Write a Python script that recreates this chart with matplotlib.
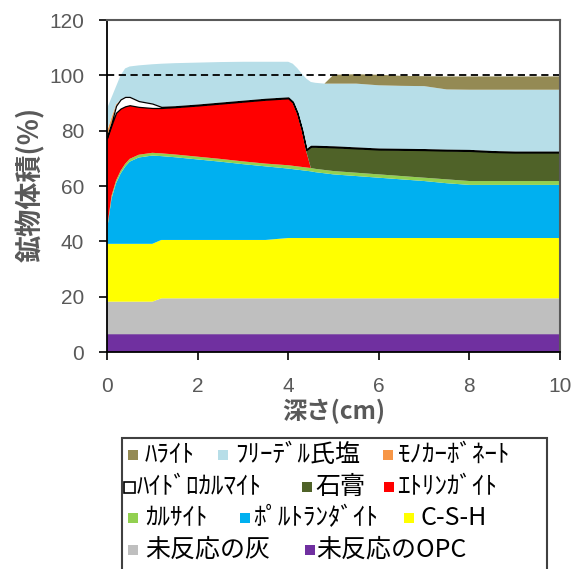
import matplotlib
matplotlib.use('Agg')
import matplotlib.pyplot as plt
from matplotlib.patches import Rectangle

# ---------------- data ----------------
depth = [0, 0.1, 0.2, 0.3, 0.4, 0.5, 0.7, 1.0, 1.2, 1.5, 2.0, 2.5, 3.0, 3.5, 4.0, 4.1, 4.2,
         4.3, 4.4, 4.5, 4.6, 4.8, 5.0, 5.5, 6.0, 6.5, 7.0, 7.5, 8.0, 8.5, 9.0, 9.5, 10.0]

opc = [6.4, 6.4, 6.4, 6.4, 6.4, 6.4, 6.4, 6.4, 6.4, 6.4, 6.4, 6.4, 6.4, 6.4, 6.4, 6.4, 6.4,
       6.4, 6.4, 6.4, 6.4, 6.4, 6.4, 6.4, 6.4, 6.4, 6.4, 6.4, 6.4, 6.4, 6.4, 6.4, 6.4]
ash = [11.8, 11.8, 11.8, 11.8, 11.8, 11.8, 11.8, 11.8, 13.0, 13.0, 13.0, 13.0, 13.0, 13.0, 13.0, 13.0, 13.0,
       13.0, 13.0, 13.0, 13.0, 13.0, 13.0, 13.0, 13.0, 13.0, 13.0, 13.0, 13.0, 13.0, 13.0, 13.0, 13.0]
csh = [20.9, 20.9, 20.9, 20.9, 20.9, 20.9, 20.9, 20.9, 21.1, 21.1, 21.1, 21.1, 21.1, 21.1, 21.8, 21.8, 21.8,
       21.8, 21.8, 21.8, 21.8, 21.8, 21.8, 21.8, 21.8, 21.8, 21.8, 21.8, 21.8, 21.8, 21.8, 21.8, 21.8]
portlandite = [4.9, 16.4, 21.9, 25.4, 27.9, 29.7, 31.2, 31.9, 30.3, 29.9, 29.1, 28.3, 27.4, 26.6, 25.1, 24.9, 24.7,
               24.5, 24.3, 24.1, 23.8, 23.4, 23.0, 22.4, 21.8, 21.2, 20.6, 19.8, 19.2, 19.2, 19.2, 19.2, 19.2]
calcite = [0.6, 1.0, 1.0, 1.0, 1.0, 1.0, 1.0, 1.0, 1.0, 1.0, 1.0, 1.0, 1.0, 1.0, 1.2, 1.2, 1.2,
           1.2, 1.2, 1.2, 1.2, 1.2, 1.2, 1.2, 1.2, 1.2, 1.2, 1.4, 1.4, 1.4, 1.4, 1.4, 1.4]
ettringite = [32.7, 25.5, 24.5, 22.5, 20.8, 19.4, 17.3, 16.2, 16.4, 17.1, 18.5, 20.0, 21.6, 23.1, 24.2, 22.7, 18.9,
              13.1, 5.7, 0, 0, 0, 0, 0, 0, 0, 0, 0, 0, 0, 0, 0, 0]
gypsum = [0, 0, 0, 0, 0, 0, 0, 0, 0, 0, 0, 0, 0, 0, 0, 0.2, 0.3,
          0.4, 0.6, 7.7, 8.0, 8.3, 8.6, 8.8, 9.0, 9.5, 10.0, 10.4, 10.9, 10.5, 10.3, 10.3, 10.3]
hydrocalumite = [0.4, 0.8, 2.5, 3.3, 3.4, 3.0, 2.1, 1.6, 0.4, 0.3, 0.3, 0.3, 0.3, 0.3, 0.3, 0.3, 0.3,
                 0.3, 0.3, 0.3, 0.3, 0.3, 0.3, 0.3, 0.3, 0.3, 0.3, 0.3, 0.3, 0.3, 0.3, 0.3, 0.3]
monocarbonate = [2.0, 2.0, 0.5, 0, 0, 0, 0, 0, 0, 0, 0, 0, 0, 0, 0, 0, 0,
                 0, 0, 0, 0, 0, 0, 0, 0, 0, 0, 0, 0, 0, 0, 0, 0]
friedel = [8.3, 7.2, 6.5, 8.7, 10.3, 11.0, 12.9, 14.2, 15.6, 15.6, 15.2, 14.7, 14.1, 13.4, 12.9, 13.7, 16.0,
           19.9, 25.5, 23.1, 22.8, 22.6, 22.7, 23.1, 22.9, 22.8, 22.8, 21.8, 21.8, 22.2, 22.4, 22.4, 22.4]
halite = [0, 0, 0, 0, 0, 0, 0, 0, 0, 0, 0, 0, 0, 0, 0, 0, 0,
          0, 0, 0, 0, 0, 3.2, 3.4, 3.8, 3.6, 3.6, 4.7, 4.8, 4.8, 4.8, 4.8, 4.8]

reference_total = 100

labels = ['ﾊﾗｲﾄ', 'ﾌﾘｰﾃﾞﾙ氏塩', 'ﾓﾉｶｰﾎﾞﾈｰﾄ', 'ﾊｲﾄﾞﾛｶﾙﾏｲﾄ', '石膏', 'ｴﾄﾘﾝｶﾞｲﾄ',
          'ｶﾙｻｲﾄ', 'ﾎﾟﾙﾄﾗﾝﾀﾞｲﾄ', 'C-S-H', '未反応の灰', '未反応のOPC']

x_ticks = [0, 2, 4, 6, 8, 10]
y_ticks = [0, 20, 40, 60, 80, 100, 120]
x_label = '深さ(cm)'
y_label = '鉱物体積(%)'

# ---------------- style ----------------
colors = {
    'ﾊﾗｲﾄ': '#948A54', 'ﾌﾘｰﾃﾞﾙ氏塩': '#B7DEE8', 'ﾓﾉｶｰﾎﾞﾈｰﾄ': '#F79646',
    'ﾊｲﾄﾞﾛｶﾙﾏｲﾄ': '#FFFFFF', '石膏': '#4F6228', 'ｴﾄﾘﾝｶﾞｲﾄ': '#FF0000',
    'ｶﾙｻｲﾄ': '#92D050', 'ﾎﾟﾙﾄﾗﾝﾀﾞｲﾄ': '#00B0F0', 'C-S-H': '#FFFF00',
    '未反応の灰': '#BFBFBF', '未反応のOPC': '#7030A0'}

W, H = 574, 569
fig = plt.figure(figsize=(W / 100, H / 100), dpi=100)
fx = lambda px: px / W
fy = lambda py: 1 - py / H

ax = fig.add_axes([fx(107), fy(352), fx(560) - fx(107), fy(20) - fy(352)])

stack_order = ['未反応のOPC', '未反応の灰', 'C-S-H', 'ﾎﾟﾙﾄﾗﾝﾀﾞｲﾄ', 'ｶﾙｻｲﾄ', 'ｴﾄﾘﾝｶﾞｲﾄ',
               '石膏', 'ﾊｲﾄﾞﾛｶﾙﾏｲﾄ', 'ﾓﾉｶｰﾎﾞﾈｰﾄ', 'ﾌﾘｰﾃﾞﾙ氏塩', 'ﾊﾗｲﾄ']
stack_vals = [opc, ash, csh, portlandite, calcite, ettringite, gypsum,
              hydrocalumite, monocarbonate, friedel, halite]
polys = ax.stackplot(depth, *stack_vals, colors=[colors[k] for k in stack_order])
for name, p in zip(stack_order, polys):
    if name == 'ﾊｲﾄﾞﾛｶﾙﾏｲﾄ':
        p.set_edgecolor('black')
        p.set_linewidth(0.9)
        p.set_zorder(2.5)
    else:
        p.set_linewidth(0)
        p.set_edgecolor('none')

ax.axhline(reference_total, color='black', lw=1.3, ls=(0, (4, 2.5)), zorder=3)

ax.set_xlim(0, 10)
ax.set_ylim(0, 120)
ax.set_xticks(x_ticks)
ax.set_yticks(y_ticks)
tick_font = {'family': ['Liberation Sans', 'DejaVu Sans'], 'size': 15}
ax.set_xticklabels([str(v) for v in x_ticks], fontdict=tick_font, color='#595959')
ax.set_yticklabels([str(v) for v in y_ticks], fontdict=tick_font, color='#595959')
ax.tick_params(axis='x', direction='out', length=6, width=1.2, pad=12, color='black')
ax.tick_params(axis='y', direction='out', length=5.5, width=1.2, pad=11, color='black')
for s in ['left', 'bottom']:
    ax.spines[s].set_color('black')
    ax.spines[s].set_linewidth(1.3)
    ax.spines[s].set_zorder(4)
for s in ['top', 'right']:
    ax.spines[s].set_color('#595959')
    ax.spines[s].set_linewidth(1.5)
    ax.spines[s].set_zorder(4)

cjk = ['Noto Sans CJK JP', 'DejaVu Sans']
fig.text(fx(31), fy(184), y_label, rotation=90, ha='center', va='center',
         family=cjk, fontsize=19.5, fontweight='bold', color='#595959')
fig.text(fx(334), fy(411), x_label, ha='center', va='center',
         family=cjk, fontsize=17.5, fontweight='bold', color='#595959')

# ---------------- legend (flow layout like the original) ----------------
fig.patches.append(Rectangle((fx(121.5), fy(580)), fx(547) - fx(121.5), fy(437.5) - fy(580),
                             transform=fig.transFigure, fill=False, edgecolor='#404040',
                             linewidth=1.5, clip_on=False))
legend_layout = [  # (label, row_y, marker_x, text_x)
    ('ﾊﾗｲﾄ', 455, 128, 145), ('ﾌﾘｰﾃﾞﾙ氏塩', 455, 218, 235), ('ﾓﾉｶｰﾎﾞﾈｰﾄ', 455, 383, 398),
    ('ﾊｲﾄﾞﾛｶﾙﾏｲﾄ', 487, 124, 137), ('石膏', 487, 302, 315), ('ｴﾄﾘﾝｶﾞｲﾄ', 487, 384, 397),
    ('ｶﾙｻｲﾄ', 518, 128, 145), ('ﾎﾟﾙﾄﾗﾝﾀﾞｲﾄ', 518, 240, 253), ('C-S-H', 518, 404, 420),
    ('未反応の灰', 550, 128, 145), ('未反応のOPC', 550, 305, 316)]
for lab, ry, mx, tx in legend_layout:
    ms = 10
    if lab == 'ﾊｲﾄﾞﾛｶﾙﾏｲﾄ':
        fig.patches.append(Rectangle((fx(mx), fy(ry + ms / 2 + 1)), fx(ms + 1), (ms + 1) / H,
                                     transform=fig.transFigure, facecolor='white',
                                     edgecolor='black', linewidth=1.2))
    else:
        fig.patches.append(Rectangle((fx(mx), fy(ry + ms / 2)), fx(ms), ms / H,
                                     transform=fig.transFigure, facecolor=colors[lab],
                                     edgecolor='none'))
    fig.text(fx(tx), fy(ry), lab, ha='left', va='center', family=cjk,
             fontsize=18, color='black')

fig.savefig('out.png', dpi=100)
